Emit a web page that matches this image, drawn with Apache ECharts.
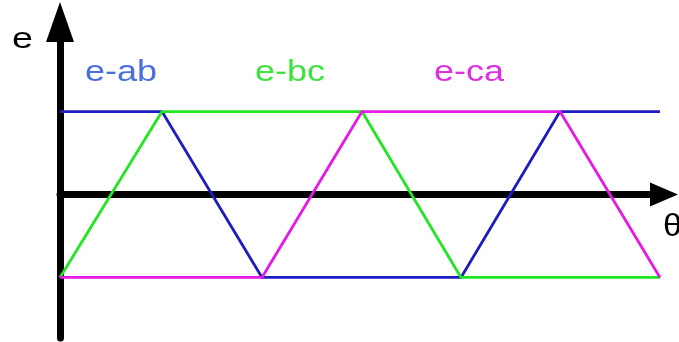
<!DOCTYPE html>
<html>
<head>
<meta charset="utf-8">
<script src="https://cdn.jsdelivr.net/npm/echarts@6/dist/echarts.min.js"></script>
<style>html,body{margin:0;padding:0;background:#fff;}#c{width:679px;height:342px;}</style>
</head>
<body>
<div id="c"></div>
<script>
// Electrical angle breakpoints (in units of 60°) and normalised back-EMF levels
const theta = [0, 1.02, 2.02, 3.02, 4.01, 5, 6];
const eAb = [1, 1, -1, -1, -1, 1, 1];
const eBc = [-1, 1, 1, 1, -1, -1, -1];
const eCa = [-1, -1, -1, 1, 1, 1, -1];
const seriesNames = ['e-ab', 'e-bc', 'e-ca'];
const axisNames = ['e', 'θ'];

const lineColors = ['#1c1cc2', '#22e622', '#e619e6'];
const textColors = ['#4a6fe0', '#3ce43c', '#e02ee0'];

const pairs = vals => theta.map((t, i) => [t, vals[i]]);

const chart = echarts.init(document.getElementById('c'));
const FONT = '"Liberation Sans", Arial, sans-serif';

function label(text, x, y, size, sx, color) {
  return { type: 'text', x: x, y: y, scaleX: sx, z: 10,
    style: { text: text, fontSize: size, fontFamily: FONT, fill: color, textAlign: 'left', textVerticalAlign: 'top' } };
}

chart.setOption({
  animation: false,
  backgroundColor: '#fff',
  grid: { left: 60, right: 15, top: 22, bottom: 4, containLabel: false },
  xAxis: {
    type: 'value', min: 0, max: 6.04,
    axisLine: { show: true, lineStyle: { color: '#000', width: 7 },
      symbol: ['none', 'triangle'], symbolSize: [24, 28], symbolOffset: [0, 0] },
    axisTick: { show: false }, axisLabel: { show: false }, splitLine: { show: false }
  },
  yAxis: {
    type: 'value', min: -1.73, max: 2.08,
    axisLine: { show: true, lineStyle: { color: '#000', width: 7 },
      symbol: ['none', 'triangle'], symbolSize: [28, 40], symbolOffset: [0, 0] },
    axisTick: { show: false }, axisLabel: { show: false }, splitLine: { show: false }
  },
  series: [eAb, eBc, eCa].map((vals, i) => ({
    name: seriesNames[i], type: 'line', data: pairs(vals),
    symbol: 'none', lineStyle: { color: lineColors[i], width: 2.8 }, z: 3
  })),
  graphic: [
    label(axisNames[0], 12, 25, 29, 1.3, '#000'),
    label(axisNames[1], 663, 212, 31, 1.1, '#000'),
    label(seriesNames[0], 85, 58, 30, 1.2, textColors[0]),
    label(seriesNames[1], 255, 58, 30, 1.2, textColors[1]),
    label(seriesNames[2], 434, 58, 30, 1.2, textColors[2])
  ]
});
</script>
</body>
</html>
